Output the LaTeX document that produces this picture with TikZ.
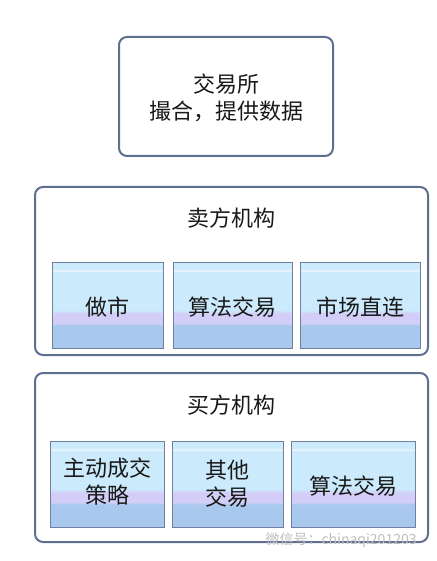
\documentclass[tikz,border=0pt]{standalone}
\usepackage{fontspec}
\newfontfamily\cjk{Noto Sans CJK SC}
\definecolor{frame}{HTML}{5F6F8F}
\definecolor{innerframe}{HTML}{7080A0}
\definecolor{cbot}{HTML}{A8C8ED}
\definecolor{clav}{HTML}{D2CEF7}
\definecolor{ctop}{HTML}{CBEAFC}
\definecolor{cline}{HTML}{EEF6FC}
\pgfdeclareverticalshading{cellshade}{100bp}{
  color(0bp)=(cbot);
  color(38bp)=(cbot);
  color(39.5bp)=(clav);
  color(45bp)=(clav);
  color(47bp)=(ctop);
  color(69bp)=(ctop);
  color(70bp)=(cline);
  color(71bp)=(ctop);
  color(100bp)=(ctop)}
\tikzset{
  every node/.style={font=\cjk\fontsize{22}{27}\selectfont, text=black!90},
  outerbox/.style={draw=frame, line width=2pt, rounded corners=8pt, fill=white},
  cellbox/.style={shading=cellshade},
  cellframe/.style={draw=innerframe, line width=0.8pt},
  wm/.style={font=\cjk\fontsize{14}{16}\selectfont, text=black!25}
}
\begin{document}
\begin{tikzpicture}[x=1pt,y=-1pt]
\useasboundingbox (0,0) rectangle (436,561);
% exchange
\draw[outerbox] (119,37) rectangle (333,156);
\node[align=center] (ex) at (226,98) {交易所\\撮合，提供数据};
% sell side
\draw[outerbox] (35,187) rectangle (428,355);
\node (sell) at (231,218) {卖方机构};
\path[cellbox] (52,262) rectangle (163,348);
\draw[cellframe] (52,262) rectangle (163,348);
\node (s1) at (107,307) {做市};
\path[cellbox] (173,262) rectangle (292,348);
\draw[cellframe] (173,262) rectangle (292,348);
\node (s2) at (232,307) {算法交易};
\path[cellbox] (300,262) rectangle (420,348);
\draw[cellframe] (300,262) rectangle (420,348);
\node (s3) at (360,307) {市场直连};
% buy side
\draw[outerbox] (35,373) rectangle (428,542);
\node (buy) at (231,405) {买方机构};
\path[cellbox] (50,441) rectangle (164,527);
\draw[cellframe] (50,441) rectangle (164,527);
\node[align=center] (b1) at (107,482) {主动成交\\策略};
\path[cellbox] (172,441) rectangle (283,527);
\draw[cellframe] (172,441) rectangle (283,527);
\node[align=center] (b2) at (227,484) {其他\\交易};
\path[cellbox] (291,441) rectangle (415,527);
\draw[cellframe] (291,441) rectangle (415,527);
\node (b3) at (353,486) {算法交易};
% watermark
\node[wm, anchor=west] (wmark) at (262,540) {微信号：chinaqi201203};
\end{tikzpicture}
\end{document}
